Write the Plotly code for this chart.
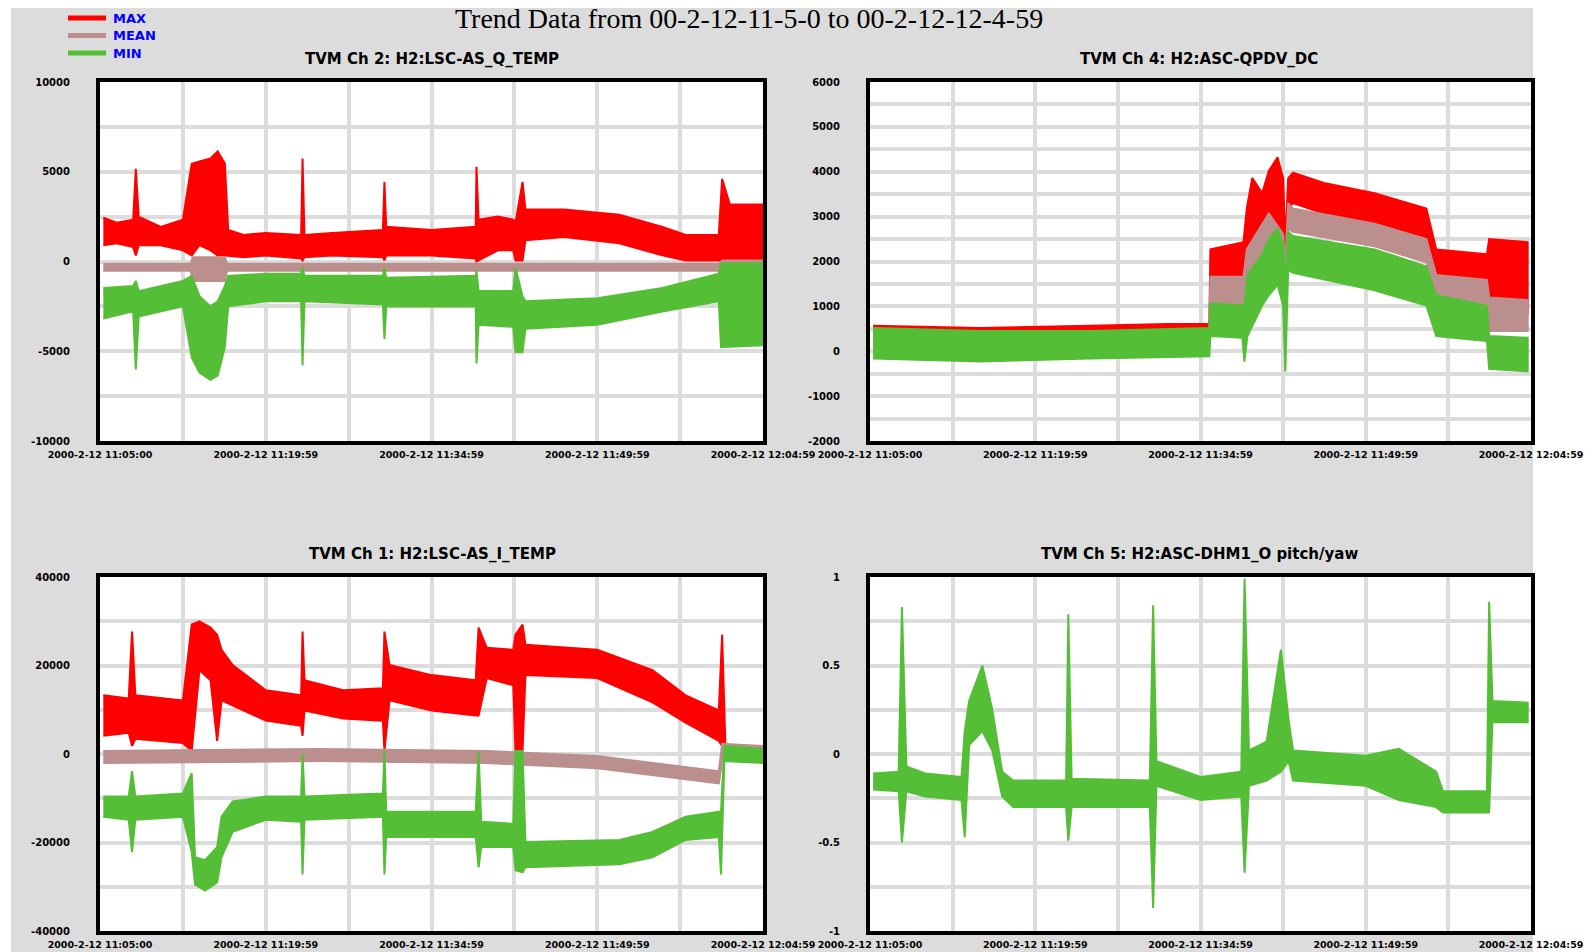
import plotly.graph_objects as go

# ---------------- data (time in minutes after 11:05:00) ----------------
X_TICK_TEXT = ["2000-2-12 11:05:00", "2000-2-12 11:19:59", "2000-2-12 11:34:59",
               "2000-2-12 11:49:59", "2000-2-12 12:04:59"]

# Ch 2 : H2:LSC-AS_Q_TEMP
CH2_MAX_T = [0.3,1.5,3.0,3.24,3.5,5.5,7.5,8.3,9.0,10.0,10.65,11.3,11.6,13,15,18.2,18.33,18.5,21,25.6,25.74,25.9,30,34.0,34.07,34.26,36,37.4,37.6,38.24,38.5,42,47,50.9,53,56.0,56.3,57,60]
CH2_MAX_HI = [2440,2160,2330,5170,2500,1930,2330,5450,5570,5740,6130,5450,1760,1480,1590,1480,5740,1480,1590,1760,4430,1930,1760,1930,5280,2330,2500,2330,2160,4430,2900,2900,2610,1930,1480,1480,4600,3180,3180]
CH2_MAX_LO = [910,1020,800,340,910,910,620,340,910,620,340,340,340,230,340,170,60,230,340,230,60,340,340,170,0,60,620,620,60,60,1190,1360,1020,340,60,60,60,60,60]
CH2_MEAN_T = [0.3,8.2,8.4,11.3,11.5,56.0,56.3,60]
CH2_MEAN_HI = [-120,-120,230,230,-120,-120,60,60]
CH2_MEAN_LO = [-520,-520,-1080,-1080,-520,-520,-520,-520]
CH2_MIN_T = [0.3,3.0,3.24,3.5,7.5,8.3,9.0,10.0,10.65,11.3,11.6,15,18.2,18.33,18.5,25.6,25.74,25.9,34.0,34.07,34.26,37.4,37.6,38.24,38.5,45,50.9,56.0,56.2,60]
CH2_MIN_HI = [-1480,-1360,-1080,-1650,-1080,-800,-1930,-2500,-2220,-1360,-800,-680,-680,-340,-800,-800,-340,-910,-800,-510,-1650,-1650,-340,-1930,-2220,-2050,-1480,-680,-110,-110]
CH2_MIN_LO = [-3180,-2780,-6020,-3070,-2500,-5340,-6190,-6590,-6360,-4770,-2500,-2220,-2220,-5790,-2220,-2390,-4320,-2500,-2500,-5680,-3520,-3640,-5060,-5060,-3750,-3520,-2780,-2220,-4770,-4660]

# Ch 4 : H2:ASC-QPDV_DC
CH4_MAX_T = [0.28,10,20,27,30.8,30.9,33.9,34.2,34.7,35.6,36.2,37.0,37.5,37.7,37.96,38.4,41.2,45.8,50.5,51.4,56.0,56.2,59.7]
CH4_MAX_HI = [570,520,570,610,610,2270,2430,3180,3860,3520,4020,4320,3860,2390,3860,3980,3750,3520,3180,2270,2160,2500,2430]
CH4_MAX_LO = [300,300,270,300,340,1590,1660,1930,2390,2160,2610,2840,2390,750,3180,3300,3070,2840,2390,1480,1360,910,840]
CH4_MEAN_T = [0.28,30.8,30.9,33.9,34.2,36.2,37.5,37.7,37.96,38.4,45.8,50.5,51.4,56.0,56.2,59.7]
CH4_MEAN_HI = [340,340,1660,1660,2270,3070,2610,1930,3300,3180,2840,2500,1700,1590,1200,1140]
CH4_MEAN_LO = [110,110,1020,1020,1480,1930,1700,800,2730,2660,2340,1980,1140,1070,450,450]
CH4_MIN_T = [0.28,10,20,30.8,30.9,33.8,33.98,34.26,35.6,36.2,37.0,37.5,37.7,37.96,38.4,45.8,50.5,51.4,56.0,56.2,59.7]
CH4_MIN_HI = [520,450,450,520,1070,1020,1020,1700,2160,2500,2730,2390,1480,2660,2570,2270,1890,1250,1020,340,300]
CH4_MIN_LO = [-160,-230,-160,-110,340,300,-230,340,1020,1250,1480,1020,-450,1820,1750,1360,1020,340,230,-390,-450]

# Ch 1 : H2:LSC-AS_I_TEMP
CH1_MAX_T = [0.3,2.6,2.9,3.2,7.5,8.3,9.0,10.0,10.6,11.0,12.0,15,18.2,18.33,18.5,22,25.6,25.74,26.2,30,34.0,34.26,35,37.4,37.6,38.24,38.5,45,50,53,56.0,56.3,56.6,60]
CH1_MAX_HI = [13260,12570,27660,13260,12120,29260,29950,28580,26970,23550,20120,14400,13260,27660,16690,14400,14860,27660,20120,17830,16690,28580,24000,23550,26970,29260,24690,23550,18970,13260,9830,26970,1830,1140]
CH1_MAX_LO = [4110,4800,1830,3430,2510,690,18970,16690,2970,12120,10970,7540,6400,4110,9830,8000,7540,690,12120,9830,8690,8690,17150,15540,690,690,17830,17150,11660,7090,2970,1830,-1140,-1600]
CH1_MEAN_T = [0.3,20,35,45,56.0,56.3,60]
CH1_MEAN_HI = [690,1140,690,-460,-3890,2290,1830]
CH1_MEAN_LO = [-2060,-1600,-2060,-3200,-6630,-1600,-1600]
CH1_MIN_T = [0.3,2.6,2.9,3.2,7.5,8.3,8.6,9.5,10.6,11.0,12.0,15,18.2,18.33,18.5,25.6,25.74,25.9,34.0,34.26,34.5,37.4,37.6,38.24,38.5,47,50,53,56.0,56.2,56.5,60]
CH1_MIN_HI = [-9600,-9600,-3890,-9600,-8920,-4340,-23320,-24000,-21030,-14170,-10740,-9600,-9600,230,-9600,-8920,690,-13030,-13030,690,-15320,-15770,690,690,-19890,-19430,-17600,-14170,-13030,-13030,1830,1140]
CH1_MIN_LO = [-14170,-14860,-22170,-14860,-14170,-22170,-29490,-30860,-29030,-23320,-17600,-14860,-15320,-27200,-14860,-14170,-27200,-18750,-18750,-25600,-21030,-21030,-26290,-26750,-25600,-24920,-23320,-19430,-18750,-27200,-1600,-2060]

# Ch 5 : H2:ASC-DHM1_O pitch/yaw (max, mean and min coincide)
CH5_T = [0.28,2.6,2.9,3.3,5,8.3,8.6,9.0,10.2,11.1,12.0,13,17.8,18.0,18.3,25.4,25.7,26.0,30,33.7,34.0,34.4,36,37.3,38.0,38.4,45,48,51.4,52,56.0,56.2,56.5,59.7]
CH5_HI = [-0.11,-0.10,0.83,-0.07,-0.11,-0.13,0.13,0.30,0.50,0.25,-0.10,-0.15,-0.15,0.79,-0.14,-0.15,0.84,-0.04,-0.13,-0.10,0.99,0.02,0.07,0.59,0.19,0.02,-0.01,0.03,-0.10,-0.21,-0.21,0.86,0.30,0.29]
CH5_LO = [-0.20,-0.21,-0.50,-0.21,-0.24,-0.26,-0.47,0.05,0.13,0.02,-0.24,-0.30,-0.30,-0.49,-0.30,-0.30,-0.87,-0.18,-0.26,-0.24,-0.67,-0.18,-0.15,-0.10,-0.04,-0.15,-0.18,-0.26,-0.30,-0.33,-0.33,-0.33,0.18,0.18]

SUBPLOT_TITLES = ["TVM Ch 2: H2:LSC-AS_Q_TEMP", "TVM Ch 4: H2:ASC-QPDV_DC",
                  "TVM Ch 1: H2:LSC-AS_I_TEMP", "TVM Ch 5: H2:ASC-DHM1_O pitch/yaw"]
MAIN_TITLE = "Trend Data from 00-2-12-11-5-0 to 00-2-12-12-4-59"
LEGEND_NAMES = ["MAX", "MEAN", "MIN"]

# ---------------- styling ----------------
RED, MEAN_C, GREEN = "#ff0000", "#bc8f8f", "#55be37"
GRID = "#dcdcdc"
BG = "#dcdcdc"
W, H = 1596, 952

fig = go.Figure()

def band(t, hi, lo, color, xa, ya, name):
    xs = list(t) + list(t)[::-1]
    ys = list(hi) + list(lo)[::-1]
    fig.add_trace(go.Scatter(x=xs, y=ys, mode="lines", fill="toself",
                             fillcolor=color, line=dict(color=color, width=2),
                             xaxis=xa, yaxis=ya, name=name, showlegend=False,
                             hoverinfo="skip"))

band(CH2_MAX_T, CH2_MAX_HI, CH2_MAX_LO, RED, "x", "y", "MAX")
band(CH2_MEAN_T, CH2_MEAN_HI, CH2_MEAN_LO, MEAN_C, "x", "y", "MEAN")
band(CH2_MIN_T, CH2_MIN_HI, CH2_MIN_LO, GREEN, "x", "y", "MIN")

band(CH4_MAX_T, CH4_MAX_HI, CH4_MAX_LO, RED, "x2", "y2", "MAX")
band(CH4_MEAN_T, CH4_MEAN_HI, CH4_MEAN_LO, MEAN_C, "x2", "y2", "MEAN")
band(CH4_MIN_T, CH4_MIN_HI, CH4_MIN_LO, GREEN, "x2", "y2", "MIN")

band(CH1_MAX_T, CH1_MAX_HI, CH1_MAX_LO, RED, "x3", "y3", "MAX")
band(CH1_MEAN_T, CH1_MEAN_HI, CH1_MEAN_LO, MEAN_C, "x3", "y3", "MEAN")
band(CH1_MIN_T, CH1_MIN_HI, CH1_MIN_LO, GREEN, "x3", "y3", "MIN")

band(CH5_T, CH5_HI, CH5_LO, GREEN, "x4", "y4", "MIN")

LEFT = [100 / W, 763 / W]
RIGHT = [870 / W, 1531 / W]
TOP = [1 - 441 / H, 1 - 82 / H]
BOTTOM = [1 - 931 / H, 1 - 577 / H]

xtickfont = dict(family="DejaVu Sans", size=9.5, color="black", weight="bold")
ytickfont = dict(family="DejaVu Sans", size=10, color="black", weight="bold")

def xaxis(domain, anchor):
    vals = [i * 7.5 for i in range(9)]
    text = [X_TICK_TEXT[i // 2] if i % 2 == 0 else "" for i in range(9)]
    return dict(domain=domain, anchor=anchor, range=[0, 60], tickmode="array",
                tickvals=vals, ticktext=text, showgrid=True, gridcolor=GRID,
                gridwidth=4, zeroline=False, showline=True, mirror=True,
                linecolor="black", linewidth=4, ticks="", tickfont=xtickfont,
                ticklabelstandoff=2, automargin=False)

def yaxis(domain, anchor, lo, hi, step, label_every, fmt):
    n = int(round((hi - lo) / step))
    vals = [lo + i * step for i in range(n + 1)]
    text = [fmt(v) if i % label_every == 0 else "" for i, v in enumerate(vals)]
    return dict(domain=domain, anchor=anchor, range=[lo, hi], tickmode="array",
                tickvals=vals, ticktext=text, showgrid=True, gridcolor=GRID,
                gridwidth=4, zeroline=False, showline=True, mirror=True,
                linecolor="black", linewidth=4, ticks="", tickfont=ytickfont,
                ticklabelstandoff=24, automargin=False)

def fmt_int(v):
    return "%d" % round(v)

def fmt_f(v):
    return ("%g" % v) if abs(v) > 1e-9 else "0"

fig.update_layout(
    width=W, height=H, margin=dict(l=0, r=0, t=0, b=0, autoexpand=False),
    paper_bgcolor=BG, plot_bgcolor="white", showlegend=False,
    xaxis=xaxis(LEFT, "y"), yaxis=yaxis(TOP, "x", -10000, 10000, 2500, 2, fmt_int),
    xaxis2=xaxis(RIGHT, "y2"), yaxis2=yaxis(TOP, "x2", -2000, 6000, 500, 2, fmt_int),
    xaxis3=xaxis(LEFT, "y3"), yaxis3=yaxis(BOTTOM, "x3", -40000, 40000, 10000, 2, fmt_int),
    xaxis4=xaxis(RIGHT, "y4"), yaxis4=yaxis(BOTTOM, "x4", -1, 1, 0.25, 2, fmt_f),
)

# white page outside the grey canvas
shapes = [
    dict(type="rect", xref="paper", yref="paper", x0=0, x1=1, y0=1 - 8 / H, y1=1,
         fillcolor="white", line=dict(width=0), layer="below"),
    dict(type="rect", xref="paper", yref="paper", x0=0, x1=11 / W, y0=0, y1=1,
         fillcolor="white", line=dict(width=0), layer="below"),
    dict(type="rect", xref="paper", yref="paper", x0=1533 / W, x1=1, y0=0, y1=1,
         fillcolor="white", line=dict(width=0), layer="below"),
]
annotations = []
for i, (name, col) in enumerate(zip(LEGEND_NAMES, [RED, MEAN_C, GREEN])):
    yy = 1 - (18 + 17.5 * i) / H
    shapes.append(dict(type="line", xref="paper", yref="paper", x0=68 / W,
                       x1=106 / W, y0=yy, y1=yy, line=dict(color=col, width=5)))
    annotations.append(dict(text="<b>%s</b>" % name, xref="paper", yref="paper",
                            x=111 / W, y=yy, xanchor="left", yanchor="middle",
                            showarrow=False,
                            font=dict(family="DejaVu Sans", size=13, color="#0000ff")))

annotations.append(dict(text=MAIN_TITLE, xref="paper", yref="paper", x=749 / W,
                        y=1 - 18 / H, xanchor="center", yanchor="middle",
                        showarrow=False,
                        font=dict(family="Liberation Serif", size=28, color="black")))

title_pos = [(432, 59), (1199, 59), (432, 554), (1199, 554)]
for txt, (px, py) in zip(SUBPLOT_TITLES, title_pos):
    annotations.append(dict(text="<b>%s</b>" % txt, xref="paper", yref="paper",
                            x=px / W, y=1 - py / H, xanchor="center",
                            yanchor="middle", showarrow=False,
                            font=dict(family="DejaVu Sans", size=15, color="black")))

fig.update_layout(shapes=shapes, annotations=annotations)

fig.write_html("out.html", config={"displayModeBar": False},
               post_script="document.body.style.margin='0';")
